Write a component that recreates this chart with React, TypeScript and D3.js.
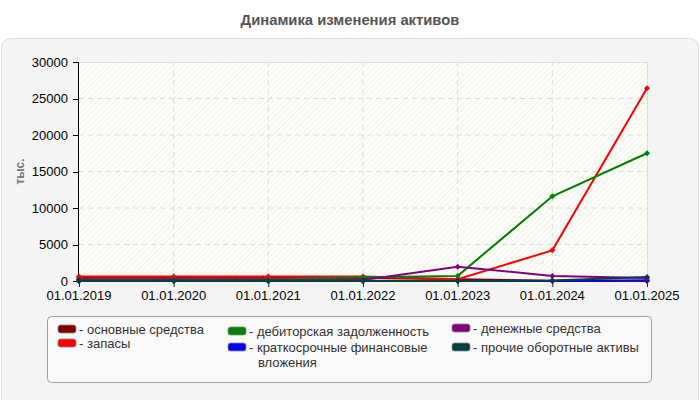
import React from "react";
import * as d3 from "d3";

const dates = ["01.01.2019", "01.01.2020", "01.01.2021", "01.01.2022", "01.01.2023", "01.01.2024", "01.01.2025"];
const yTicks = [0, 5000, 10000, 15000, 20000, 25000, 30000];

const osnovnye = [400, 400, 400, 400, 250, 50, 0];
const zapasy = [600, 600, 600, 600, 250, 4200, 26400];
const debitor = [250, 250, 250, 500, 700, 11600, 17500];
const kratkosroch = [0, 0, 0, 0, 0, 0, 100];
const denezhnye = [150, 150, 150, 150, 1950, 700, 400];
const prochie = [0, 0, 0, 0, 0, 80, 550];

const seriesNames = [
  "основные средства",
  "запасы",
  "дебиторская задолженность",
  "краткосрочные финансовые вложения",
  "денежные средства",
  "прочие оборотные активы",
];
const seriesValues = [osnovnye, zapasy, debitor, kratkosroch, denezhnye, prochie];
const seriesColors = ["#800000", "#ff0000", "#008000", "#0000ff", "#800080", "#004040"];

const FONT = "'Liberation Sans', Arial, sans-serif";

export default function App() {
  const left = 79, right = 647, top = 62, bottom = 281;
  const x = d3.scalePoint<string>().domain(dates).range([left, right]);
  const y = d3.scaleLinear().domain([0, 30000]).range([bottom, top]);
  const line = d3
    .line<number>()
    .x((_, i) => x(dates[i]) as number)
    .y((d) => y(d));

  const legendItems = [
    { i: 0, x: 58, y: 329, lines: ["основные средства"] },
    { i: 1, x: 58, y: 343, lines: ["запасы"] },
    { i: 2, x: 228, y: 331, lines: ["дебиторская задолженность"] },
    { i: 3, x: 228, y: 347, lines: ["краткосрочные финансовые", "вложения"] },
    { i: 4, x: 452, y: 328, lines: ["денежные средства"] },
    { i: 5, x: 452, y: 347, lines: ["прочие оборотные активы"] },
  ];

  return (
    <svg
      width={700}
      height={400}
      style={{ position: "absolute", left: 0, top: 0, display: "block" }}
      fontFamily={FONT}
    >
      <defs>
        <pattern id="hatch" width="4" height="4" patternUnits="userSpaceOnUse" patternTransform="rotate(45)">
          <rect width="4" height="4" fill="#fdfdf7" />
          <line x1="0" y1="0" x2="0" y2="4" stroke="#eaeae8" strokeWidth="1.2" />
        </pattern>
      </defs>
      <rect x={0} y={0} width={700} height={400} fill="#ffffff" />
      <text x={350} y={25} textAnchor="middle" fontSize={14.8} fontWeight="bold" fill="#555555">
        Динамика изменения активов
      </text>
      <rect x={1.5} y={38.5} width={697} height={372} rx={9} fill="#f4f4f4" stroke="#dddddd" />

      {/* plot area */}
      <rect x={left} y={top} width={right - left} height={bottom - top} fill="url(#hatch)" />
      {yTicks.slice(1, -1).map((t) => (
        <line key={"gy" + t} x1={left} x2={right} y1={y(t)} y2={y(t)} stroke="#dcdcdc" strokeDasharray="5,4" />
      ))}
      {dates.slice(1, -1).map((d) => (
        <line key={"gx" + d} x1={x(d)} x2={x(d)} y1={top} y2={bottom} stroke="#dcdcdc" strokeDasharray="5,4" />
      ))}
      <line x1={left} x2={right} y1={top + 0.5} y2={top + 0.5} stroke="#dddddd" />
      <line x1={right + 0.5} x2={right + 0.5} y1={top} y2={bottom} stroke="#dddddd" />

      {/* axes */}
      <line x1={left - 0.5} x2={left - 0.5} y1={top} y2={bottom + 1} stroke="#000" />
      {yTicks.map((t) => (
        <g key={"yt" + t}>
          <line x1={left - 6} x2={left} y1={Math.round(y(t)) + 0.5} y2={Math.round(y(t)) + 0.5} stroke="#000" />
          <text x={left - 11} y={y(t) + 4.5} textAnchor="end" fontSize={13} fill="#000">
            {t}
          </text>
        </g>
      ))}
      <line x1={left} x2={right} y1={bottom + 0.5} y2={bottom + 0.5} stroke="#333" />
      {dates.map((d) => (
        <g key={"xt" + d}>
          <line x1={(x(d) as number) + 0.5} x2={(x(d) as number) + 0.5} y1={bottom} y2={bottom + 6} stroke="#222" />
          <text x={x(d)} y={bottom + 19} textAnchor="middle" fontSize={13} fill="#000">
            {d}
          </text>
        </g>
      ))}
      <text
        transform={`translate(24,${(top + bottom) / 2}) rotate(-90)`}
        textAnchor="middle"
        fontSize={12}
        fontWeight="bold"
        fill="#777"
      >
        тыс.
      </text>

      {/* series */}
      {seriesValues.map((vals, si) => (
        <g key={"s" + si}>
          <path d={line(vals) || ""} fill="none" stroke={seriesColors[si]} strokeWidth={2} />
          {vals.map((v, i) => {
            const cx = x(dates[i]) as number;
            const cy = y(v);
            return (
              <path
                key={i}
                d={`M${cx},${cy - 3}L${cx + 3},${cy}L${cx},${cy + 3}L${cx - 3},${cy}Z`}
                fill={seriesColors[si]}
              />
            );
          })}
        </g>
      ))}

      {/* legend */}
      <rect x={47.5} y={316.5} width={604} height={66} rx={4} fill="#f9f9f9" stroke="#a0a0a0" />
      {legendItems.map((it) => (
        <g key={"l" + it.i}>
          <rect x={it.x} y={it.y - 4} width={18} height={8} rx={2.5} fill={seriesColors[it.i]} stroke="#888" strokeWidth={0.8} />
          {it.lines.map((ln, k) => (
            <text key={k} x={k === 0 ? it.x + 21 : it.x + 30} y={it.y + 4.5 + k * 15} fontSize={13} fill="#333">
              {k === 0 ? "- " + ln : ln}
            </text>
          ))}
        </g>
      ))}
    </svg>
  );
}
